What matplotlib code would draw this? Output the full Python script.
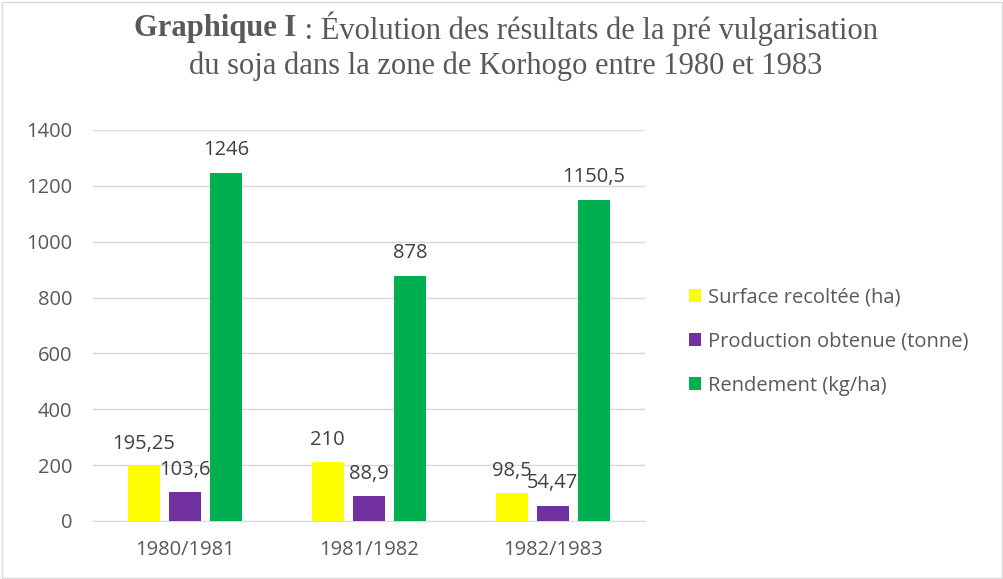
import numpy as np
import matplotlib
matplotlib.use("Agg")
from matplotlib import pyplot as plt
from matplotlib.patches import Rectangle

# data
periods = ["1980/1981", "1981/1982", "1982/1983"]
surface = [195.25, 210, 98.5]
production = [103.6, 88.9, 54.47]
rendement = [1246, 878, 1150.5]
surface_lbl = ["195,25", "210", "98,5"]
production_lbl = ["103,6", "88,9", "54,47"]
rendement_lbl = ["1246", "878", "1150,5"]
series_names = ["Surface recoltée (ha)", "Production obtenue (tonne)", "Rendement (kg/ha)"]
colors = ["#ffff00", "#7030a0", "#00b050"]

txt = "#595959"
plt.rcParams['font.family'] = ['Open Sans', 'DejaVu Sans']

fig = plt.figure(figsize=(10.04, 5.79), dpi=100)
ax = fig.add_axes([0.0926, 0.1002, 0.5494, 0.6753])

x = np.arange(len(periods))
w = 0.174
off = 0.223
all_vals = [surface, production, rendement]
all_lbls = [surface_lbl, production_lbl, rendement_lbl]
for k in range(3):
    bars = ax.bar(x + (k - 1) * off, all_vals[k], w, color=colors[k],
                  label=series_names[k], zorder=3)
    for b, lab in zip(bars, all_lbls[k]):
        ax.annotate(lab, (b.get_x() + b.get_width() / 2, b.get_height()),
                    xytext=(0, 9), textcoords="offset points",
                    ha="center", va="bottom", fontsize=14.5, color="#404040",
                    zorder=4)

ax.set_xlim(-0.5, 2.5)
ax.set_ylim(0, 1400)
ax.set_yticks(range(0, 1401, 200))
ax.set_xticks(x)
ax.set_xticklabels(periods)
ax.yaxis.grid(True, color="#d9d9d9", linewidth=1, zorder=0)
for s in ["top", "right", "left"]:
    ax.spines[s].set_visible(False)
ax.spines["bottom"].set_color("#d9d9d9")
ax.tick_params(axis="both", length=0, labelsize=14.5, colors=txt)
ax.tick_params(axis="x", pad=14)
ax.tick_params(axis="y", pad=15)

leg = fig.legend(loc="center left", bbox_to_anchor=(0.668, 0.41), frameon=False,
                 fontsize=14.5, handlelength=0.6, handleheight=0.6,
                 handletextpad=0.35, labelspacing=1.2)
for t in leg.get_texts():
    t.set_color(txt)

# title line 1 made of bold + regular parts
r = fig.canvas.get_renderer()
bold = fig.text(0, 0.950, "Graphique I", family="Liberation Serif", fontsize=22,
                fontweight="bold", color=txt, va="center")
rest = fig.text(0, 0.950, " : Évolution des résultats de la pré vulgarisation",
                family="Liberation Serif", fontsize=22, color=txt, va="center")
wb = bold.get_window_extent(r).width / fig.bbox.width
wr = rest.get_window_extent(r).width / fig.bbox.width
x0 = 0.504 - (wb + wr) / 2
bold.set_x(x0)
rest.set_x(x0 + wb)
fig.text(0.504, 0.885, "du soja dans la zone de Korhogo entre 1980 et 1983",
         family="Liberation Serif", fontsize=22, color=txt, ha="center", va="center")

fig.patches.append(Rectangle((0.002, 0.002), 0.996, 0.994, transform=fig.transFigure,
                             fill=False, edgecolor="#d9d9d9", linewidth=1))

fig.savefig("out.png", dpi=100)
